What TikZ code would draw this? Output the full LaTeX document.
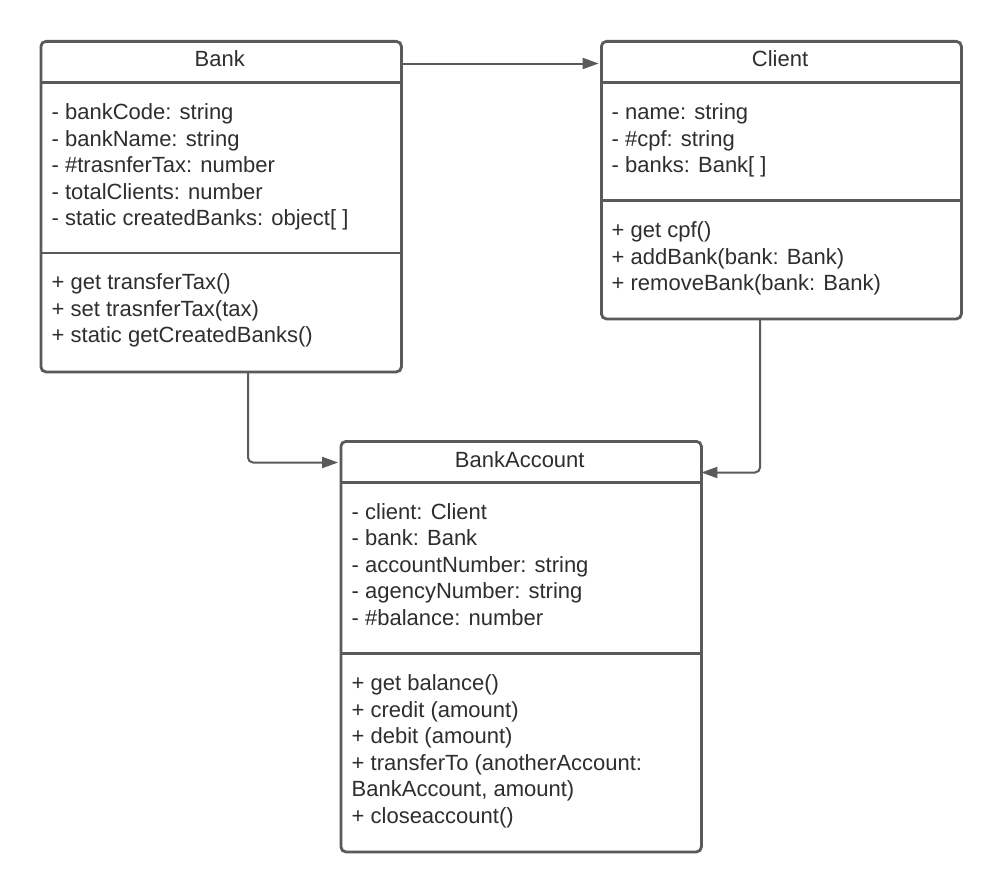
\documentclass[tikz,border=0pt]{standalone}
\usepackage{fontspec}
\setmainfont{Liberation Sans}
\usetikzlibrary{arrows.meta}
\definecolor{linegray}{HTML}{5A5A5A}
\definecolor{textgray}{HTML}{2E2E2E}
\begin{document}
\begin{tikzpicture}[x=1pt,y=-1pt,
  umlbox/.style={draw=linegray, line width=2.8pt, rounded corners=5pt, fill=white, anchor=north west, inner sep=0pt},
  sepline/.style={draw=linegray, line width=2.8pt},
  conn/.style={draw=linegray, line width=2pt, rounded corners=5pt, -{Triangle[length=16pt,width=11pt]}},
  txt/.style={anchor=base west, inner sep=0pt, text=textgray, font=\fontsize{22}{26}\selectfont},
  ttl/.style={anchor=base, inner sep=0pt, text=textgray, font=\fontsize{22}{26}\selectfont}]
\useasboundingbox[fill=white] (0,0) rectangle (1000,891);

% ---------- Bank ----------
\node[umlbox, minimum width=360.5pt, minimum height=330.5pt] (bank) at (39.5,40) {};
\draw[sepline] (39.5,82.5) -- (400,82.5);
\draw[sepline] (39.5,253) -- (400,253);
\node[ttl] (bankT) at (219.75,66.5) {Bank};
\node[txt] (bankA1) at (51.5,119.5) {- bankCode: string};
\node[txt] (bankA2) at (51.5,146) {- bankName: string};
\node[txt] (bankA3) at (51.5,172.5) {- \#trasnferTax: number};
\node[txt] (bankA4) at (51.5,199) {- totalClients: number};
\node[txt] (bankA5) at (51.5,225.5) {- static createdBanks: object[ ]};
\node[txt] (bankM1) at (51.5,289.5) {+ get transferTax()};
\node[txt] (bankM2) at (51.5,316) {+ set trasnferTax(tax)};
\node[txt] (bankM3) at (51.5,342.5) {+ static getCreatedBanks()};

% ---------- Client ----------
\node[umlbox, minimum width=360pt, minimum height=277.5pt] (client) at (600,40) {};
\draw[sepline] (600,82.5) -- (960,82.5);
\draw[sepline] (600,200.5) -- (960,200.5);
\node[ttl] (clientT) at (780,66.5) {Client};
\node[txt] (clientA1) at (611.5,119.5) {- name: string};
\node[txt] (clientA2) at (611.5,146) {- \#cpf: string};
\node[txt] (clientA3) at (611.5,172.5) {- banks: Bank[ ]};
\node[txt] (clientM1) at (611.5,237.5) {+ get cpf()};
\node[txt] (clientM2) at (611.5,264) {+ addBank(bank: Bank)};
\node[txt] (clientM3) at (611.5,290.5) {+ removeBank(bank: Bank)};

% ---------- BankAccount ----------
\node[umlbox, minimum width=360.5pt, minimum height=410.5pt] (acct) at (339.5,440) {};
\draw[sepline] (339.5,482.5) -- (700,482.5);
\draw[sepline] (339.5,653.5) -- (700,653.5);
\node[ttl] (acctT) at (519.75,467) {BankAccount};
\node[txt] (acctA1) at (351.5,519) {- client: Client};
\node[txt] (acctA2) at (351.5,545.5) {- bank: Bank};
\node[txt] (acctA3) at (351.5,572) {- accountNumber: string};
\node[txt] (acctA4) at (351.5,598.5) {- agencyNumber: string};
\node[txt] (acctA5) at (351.5,625) {- \#balance: number};
\node[txt] (acctM1) at (351.5,690.5) {+ get balance()};
\node[txt] (acctM2) at (351.5,717) {+ credit (amount)};
\node[txt] (acctM3) at (351.5,743.5) {+ debit (amount)};
\node[txt] (acctM4) at (351.5,770) {+ transferTo (anotherAccount:};
\node[txt] (acctM5) at (351.5,796.5) {BankAccount, amount)};
\node[txt] (acctM6) at (351.5,823) {+ closeaccount()};

% ---------- connectors ----------
\coordinate (bankR) at (401.4,63.5);
\coordinate (clientL) at (598.6,63.5);
\draw[conn] (bankR) -- (clientL);

\coordinate (bankB) at (248,371.9);
\coordinate (acctL) at (338.1,462.5);
\draw[conn] (bankB) |- (acctL);

\coordinate (clientB) at (760,318.9);
\coordinate (acctR) at (701.4,472.5);
\draw[conn] (clientB) |- (acctR);
\end{tikzpicture}
\end{document}
